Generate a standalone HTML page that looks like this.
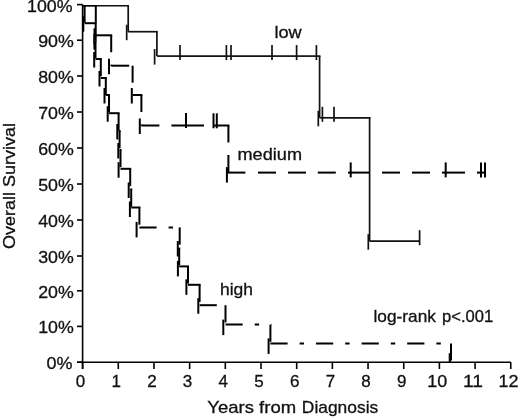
<!DOCTYPE html>
<html><head><meta charset="utf-8"><title>Overall Survival</title>
<style>
html,body{margin:0;padding:0;background:#fff;}
svg{display:block;font-family:"Liberation Sans",Arial,sans-serif;fill:#111;}
text{stroke:#111;stroke-width:0.3px;}
</style></head><body>
<svg width="520" height="419" viewBox="0 0 520 419">
<rect width="520" height="419" fill="#fff"/>
<line x1="82.60" y1="4.40" x2="82.60" y2="369.00" stroke="#000" stroke-width="1.6"/>
<line x1="77.00" y1="362.20" x2="510.90" y2="362.20" stroke="#000" stroke-width="1.6"/>
<line x1="77.00" y1="4.60" x2="82.60" y2="4.60" stroke="#000" stroke-width="1.6"/>
<text x="72.5" y="12.1" font-size="17" text-anchor="end" textLength="45.5" lengthAdjust="spacingAndGlyphs">100%</text>
<line x1="77.00" y1="40.20" x2="82.60" y2="40.20" stroke="#000" stroke-width="1.6"/>
<text x="73.8" y="47.1" font-size="17" text-anchor="end" textLength="35.6" lengthAdjust="spacingAndGlyphs">90%</text>
<line x1="77.00" y1="76.00" x2="82.60" y2="76.00" stroke="#000" stroke-width="1.6"/>
<text x="73.8" y="82.9" font-size="17" text-anchor="end" textLength="35.6" lengthAdjust="spacingAndGlyphs">80%</text>
<line x1="77.00" y1="112.00" x2="82.60" y2="112.00" stroke="#000" stroke-width="1.6"/>
<text x="73.8" y="118.9" font-size="17" text-anchor="end" textLength="35.6" lengthAdjust="spacingAndGlyphs">70%</text>
<line x1="77.00" y1="148.00" x2="82.60" y2="148.00" stroke="#000" stroke-width="1.6"/>
<text x="73.8" y="154.9" font-size="17" text-anchor="end" textLength="35.6" lengthAdjust="spacingAndGlyphs">60%</text>
<line x1="77.00" y1="184.00" x2="82.60" y2="184.00" stroke="#000" stroke-width="1.6"/>
<text x="73.8" y="190.9" font-size="17" text-anchor="end" textLength="35.6" lengthAdjust="spacingAndGlyphs">50%</text>
<line x1="77.00" y1="220.00" x2="82.60" y2="220.00" stroke="#000" stroke-width="1.6"/>
<text x="73.8" y="226.9" font-size="17" text-anchor="end" textLength="35.6" lengthAdjust="spacingAndGlyphs">40%</text>
<line x1="77.00" y1="256.00" x2="82.60" y2="256.00" stroke="#000" stroke-width="1.6"/>
<text x="73.8" y="262.9" font-size="17" text-anchor="end" textLength="35.6" lengthAdjust="spacingAndGlyphs">30%</text>
<line x1="77.00" y1="290.80" x2="82.60" y2="290.80" stroke="#000" stroke-width="1.6"/>
<text x="73.8" y="297.7" font-size="17" text-anchor="end" textLength="35.6" lengthAdjust="spacingAndGlyphs">20%</text>
<line x1="77.00" y1="326.40" x2="82.60" y2="326.40" stroke="#000" stroke-width="1.6"/>
<text x="73.8" y="333.3" font-size="17" text-anchor="end" textLength="35.6" lengthAdjust="spacingAndGlyphs">10%</text>
<line x1="77.00" y1="362.20" x2="82.60" y2="362.20" stroke="#000" stroke-width="1.6"/>
<text x="72.5" y="369.1" font-size="17" text-anchor="end" textLength="26" lengthAdjust="spacingAndGlyphs">0%</text>
<line x1="82.60" y1="362.20" x2="82.60" y2="369.00" stroke="#000" stroke-width="1.6"/>
<text x="80.6" y="387.1" font-size="17" text-anchor="middle">0</text>
<line x1="118.28" y1="362.20" x2="118.28" y2="369.00" stroke="#000" stroke-width="1.6"/>
<text x="116.3" y="387.1" font-size="17" text-anchor="middle">1</text>
<line x1="153.96" y1="362.20" x2="153.96" y2="369.00" stroke="#000" stroke-width="1.6"/>
<text x="152.0" y="387.1" font-size="17" text-anchor="middle">2</text>
<line x1="189.64" y1="362.20" x2="189.64" y2="369.00" stroke="#000" stroke-width="1.6"/>
<text x="187.6" y="387.1" font-size="17" text-anchor="middle">3</text>
<line x1="225.32" y1="362.20" x2="225.32" y2="369.00" stroke="#000" stroke-width="1.6"/>
<text x="223.3" y="387.1" font-size="17" text-anchor="middle">4</text>
<line x1="261.00" y1="362.20" x2="261.00" y2="369.00" stroke="#000" stroke-width="1.6"/>
<text x="259.0" y="387.1" font-size="17" text-anchor="middle">5</text>
<line x1="296.68" y1="362.20" x2="296.68" y2="369.00" stroke="#000" stroke-width="1.6"/>
<text x="294.7" y="387.1" font-size="17" text-anchor="middle">6</text>
<line x1="332.36" y1="362.20" x2="332.36" y2="369.00" stroke="#000" stroke-width="1.6"/>
<text x="330.4" y="387.1" font-size="17" text-anchor="middle">7</text>
<line x1="368.04" y1="362.20" x2="368.04" y2="369.00" stroke="#000" stroke-width="1.6"/>
<text x="366.0" y="387.1" font-size="17" text-anchor="middle">8</text>
<line x1="403.72" y1="362.20" x2="403.72" y2="369.00" stroke="#000" stroke-width="1.6"/>
<text x="401.7" y="387.1" font-size="17" text-anchor="middle">9</text>
<line x1="439.40" y1="362.20" x2="439.40" y2="369.00" stroke="#000" stroke-width="1.6"/>
<text x="437.2" y="387.1" font-size="17" text-anchor="middle" textLength="20" lengthAdjust="spacingAndGlyphs">10</text>
<line x1="475.08" y1="362.20" x2="475.08" y2="369.00" stroke="#000" stroke-width="1.6"/>
<text x="472.9" y="387.1" font-size="17" text-anchor="middle" textLength="20" lengthAdjust="spacingAndGlyphs">11</text>
<line x1="510.76" y1="362.20" x2="510.76" y2="369.00" stroke="#000" stroke-width="1.6"/>
<text x="508.6" y="387.1" font-size="17" text-anchor="middle" textLength="20" lengthAdjust="spacingAndGlyphs">12</text>
<text x="15.2" y="186" font-size="17" text-anchor="middle" textLength="126" lengthAdjust="spacingAndGlyphs" transform="rotate(-90 15.2 186)">Overall Survival</text>
<text x="207.3" y="413" font-size="17" text-anchor="start" textLength="88.8" lengthAdjust="spacingAndGlyphs">Years from</text>
<text x="301.8" y="413" font-size="17" text-anchor="start" textLength="76.5" lengthAdjust="spacingAndGlyphs">Diagnosis</text>
<text x="274.5" y="37.5" font-size="17" text-anchor="start" textLength="27.2" lengthAdjust="spacingAndGlyphs">low</text>
<text x="237.5" y="159.9" font-size="17" text-anchor="start" textLength="64.5" lengthAdjust="spacingAndGlyphs">medium</text>
<text x="220" y="295.4" font-size="17" text-anchor="start" textLength="33" lengthAdjust="spacingAndGlyphs">high</text>
<text x="373.5" y="322.2" font-size="17" text-anchor="start" textLength="62.4" lengthAdjust="spacingAndGlyphs">log-rank</text>
<text x="442.0" y="322.2" font-size="17" text-anchor="start" textLength="51.2" lengthAdjust="spacingAndGlyphs">p&lt;.001</text>
<line x1="82.60" y1="5.75" x2="129.05" y2="5.75" stroke="#111" stroke-width="1.3"/>
<line x1="128.20" y1="5.40" x2="128.20" y2="31.70" stroke="#111" stroke-width="1.7"/>
<line x1="126.70" y1="24.70" x2="126.70" y2="40.20" stroke="#111" stroke-width="1.7"/>
<line x1="128.20" y1="31.70" x2="157.75" y2="31.70" stroke="#111" stroke-width="1.7"/>
<line x1="156.90" y1="31.70" x2="156.90" y2="56.10" stroke="#111" stroke-width="1.7"/>
<line x1="154.60" y1="49.10" x2="154.60" y2="64.60" stroke="#111" stroke-width="1.7"/>
<line x1="156.90" y1="56.10" x2="180.00" y2="56.10" stroke="#111" stroke-width="1.7"/>
<line x1="180.00" y1="45.10" x2="180.00" y2="60.10" stroke="#111" stroke-width="1.7"/>
<line x1="180.00" y1="56.10" x2="226.40" y2="56.10" stroke="#111" stroke-width="1.7"/>
<line x1="226.40" y1="45.10" x2="226.40" y2="60.10" stroke="#111" stroke-width="1.7"/>
<line x1="226.40" y1="56.10" x2="231.00" y2="56.10" stroke="#111" stroke-width="1.7"/>
<line x1="231.00" y1="45.10" x2="231.00" y2="60.10" stroke="#111" stroke-width="1.7"/>
<line x1="231.00" y1="56.10" x2="272.00" y2="56.10" stroke="#111" stroke-width="1.7"/>
<line x1="272.00" y1="45.10" x2="272.00" y2="60.10" stroke="#111" stroke-width="1.7"/>
<line x1="272.00" y1="56.10" x2="296.60" y2="56.10" stroke="#111" stroke-width="1.7"/>
<line x1="296.60" y1="45.10" x2="296.60" y2="60.10" stroke="#111" stroke-width="1.7"/>
<line x1="296.60" y1="56.10" x2="316.40" y2="56.10" stroke="#111" stroke-width="1.7"/>
<line x1="316.40" y1="45.10" x2="316.40" y2="60.10" stroke="#111" stroke-width="1.7"/>
<line x1="316.40" y1="56.10" x2="320.45" y2="56.10" stroke="#111" stroke-width="1.7"/>
<line x1="319.60" y1="56.10" x2="319.60" y2="117.80" stroke="#111" stroke-width="1.7"/>
<line x1="318.30" y1="110.80" x2="318.30" y2="126.30" stroke="#111" stroke-width="1.7"/>
<line x1="319.60" y1="117.80" x2="322.40" y2="117.80" stroke="#111" stroke-width="1.7"/>
<line x1="322.40" y1="106.80" x2="322.40" y2="121.80" stroke="#111" stroke-width="1.7"/>
<line x1="322.40" y1="117.80" x2="334.00" y2="117.80" stroke="#111" stroke-width="1.7"/>
<line x1="334.00" y1="106.80" x2="334.00" y2="121.80" stroke="#111" stroke-width="1.7"/>
<line x1="334.00" y1="117.80" x2="370.45" y2="117.80" stroke="#111" stroke-width="1.7"/>
<line x1="369.60" y1="117.80" x2="369.60" y2="241.20" stroke="#111" stroke-width="1.7"/>
<line x1="368.30" y1="234.20" x2="368.30" y2="249.70" stroke="#111" stroke-width="1.7"/>
<line x1="369.60" y1="241.20" x2="419.60" y2="241.20" stroke="#111" stroke-width="1.7"/>
<line x1="419.60" y1="230.20" x2="419.60" y2="245.20" stroke="#111" stroke-width="1.7"/>
<line x1="82.60" y1="5.75" x2="96.80" y2="5.75" stroke="#000" stroke-width="1.3" stroke-dasharray="18 12"/>
<line x1="95.80" y1="5.40" x2="95.80" y2="35.30" stroke="#000" stroke-width="2" stroke-dasharray="17 12.4"/>
<line x1="94.50" y1="28.30" x2="94.50" y2="43.80" stroke="#000" stroke-width="2"/>
<line x1="95.80" y1="35.30" x2="112.20" y2="35.30" stroke="#000" stroke-width="2" stroke-dasharray="18 12"/>
<line x1="111.20" y1="35.30" x2="111.20" y2="65.70" stroke="#000" stroke-width="2" stroke-dasharray="17 12.4"/>
<line x1="109.00" y1="58.70" x2="109.00" y2="74.20" stroke="#000" stroke-width="2"/>
<line x1="111.20" y1="65.70" x2="133.60" y2="65.70" stroke="#000" stroke-width="2" stroke-dasharray="18 12"/>
<line x1="132.60" y1="65.70" x2="132.60" y2="95.00" stroke="#000" stroke-width="2" stroke-dasharray="17 12.4"/>
<line x1="131.80" y1="88.00" x2="131.80" y2="103.50" stroke="#000" stroke-width="2"/>
<line x1="132.60" y1="95.00" x2="142.40" y2="95.00" stroke="#000" stroke-width="2" stroke-dasharray="18 12"/>
<line x1="141.40" y1="95.00" x2="141.40" y2="125.50" stroke="#000" stroke-width="2" stroke-dasharray="17 12.4"/>
<line x1="139.80" y1="118.50" x2="139.80" y2="134.00" stroke="#000" stroke-width="2"/>
<line x1="141.40" y1="125.50" x2="186.00" y2="125.50" stroke="#000" stroke-width="2" stroke-dasharray="18 12"/>
<line x1="186.00" y1="113.00" x2="186.00" y2="128.00" stroke="#000" stroke-width="2"/>
<line x1="186.00" y1="125.50" x2="213.50" y2="125.50" stroke="#000" stroke-width="2" stroke-dasharray="18 12"/>
<line x1="213.50" y1="113.30" x2="213.50" y2="128.30" stroke="#000" stroke-width="2"/>
<line x1="213.50" y1="125.50" x2="216.80" y2="125.50" stroke="#000" stroke-width="2" stroke-dasharray="18 12"/>
<line x1="216.80" y1="113.30" x2="216.80" y2="128.30" stroke="#000" stroke-width="2"/>
<line x1="216.80" y1="125.50" x2="229.40" y2="125.50" stroke="#000" stroke-width="2" stroke-dasharray="18 12"/>
<line x1="228.40" y1="125.50" x2="228.40" y2="172.60" stroke="#000" stroke-width="2" stroke-dasharray="17 12.4"/>
<line x1="226.90" y1="167.10" x2="226.90" y2="182.60" stroke="#000" stroke-width="2"/>
<line x1="227.40" y1="172.60" x2="245.40" y2="172.60" stroke="#000" stroke-width="2"/>
<line x1="258.00" y1="172.60" x2="276.00" y2="172.60" stroke="#000" stroke-width="2"/>
<line x1="288.00" y1="172.60" x2="306.00" y2="172.60" stroke="#000" stroke-width="2"/>
<line x1="317.80" y1="172.60" x2="335.80" y2="172.60" stroke="#000" stroke-width="2"/>
<line x1="348.00" y1="172.60" x2="370.00" y2="172.60" stroke="#000" stroke-width="2"/>
<line x1="382.00" y1="172.60" x2="400.00" y2="172.60" stroke="#000" stroke-width="2"/>
<line x1="412.00" y1="172.60" x2="430.00" y2="172.60" stroke="#000" stroke-width="2"/>
<line x1="442.00" y1="172.60" x2="465.00" y2="172.60" stroke="#000" stroke-width="2"/>
<line x1="477.00" y1="172.60" x2="486.00" y2="172.60" stroke="#000" stroke-width="2"/>
<line x1="350.70" y1="162.40" x2="350.70" y2="177.40" stroke="#000" stroke-width="2"/>
<line x1="445.70" y1="162.40" x2="445.70" y2="177.40" stroke="#000" stroke-width="2"/>
<line x1="481.00" y1="162.40" x2="481.00" y2="177.40" stroke="#000" stroke-width="2"/>
<line x1="485.00" y1="162.40" x2="485.00" y2="177.40" stroke="#000" stroke-width="2"/>
<line x1="82.60" y1="5.75" x2="85.60" y2="5.75" stroke="#000" stroke-width="1.3" stroke-dasharray="17.2 12 4.4 12"/>
<line x1="84.60" y1="5.40" x2="84.60" y2="23.20" stroke="#000" stroke-width="2" stroke-dasharray="17.2 12 4.4 12"/>
<line x1="83.30" y1="16.20" x2="83.30" y2="31.70" stroke="#000" stroke-width="2"/>
<line x1="84.60" y1="23.20" x2="96.70" y2="23.20" stroke="#000" stroke-width="2" stroke-dasharray="17.2 12 4.4 12"/>
<line x1="95.70" y1="23.20" x2="95.70" y2="41.00" stroke="#000" stroke-width="2" stroke-dasharray="17.2 12 4.4 12"/>
<line x1="94.40" y1="34.00" x2="94.40" y2="49.50" stroke="#000" stroke-width="2"/>
<line x1="95.70" y1="41.00" x2="96.50" y2="41.00" stroke="#000" stroke-width="2" stroke-dasharray="17.2 12 4.4 12"/>
<line x1="95.50" y1="41.00" x2="95.50" y2="59.00" stroke="#000" stroke-width="2" stroke-dasharray="17.2 12 4.4 12"/>
<line x1="94.20" y1="52.00" x2="94.20" y2="67.50" stroke="#000" stroke-width="2"/>
<line x1="95.50" y1="59.00" x2="101.80" y2="59.00" stroke="#000" stroke-width="2" stroke-dasharray="17.2 12 4.4 12"/>
<line x1="100.80" y1="59.00" x2="100.80" y2="78.00" stroke="#000" stroke-width="2" stroke-dasharray="17.2 12 4.4 12"/>
<line x1="99.50" y1="71.00" x2="99.50" y2="86.50" stroke="#000" stroke-width="2"/>
<line x1="100.80" y1="78.00" x2="106.80" y2="78.00" stroke="#000" stroke-width="2" stroke-dasharray="17.2 12 4.4 12"/>
<line x1="105.80" y1="78.00" x2="105.80" y2="95.00" stroke="#000" stroke-width="2" stroke-dasharray="17.2 12 4.4 12"/>
<line x1="104.50" y1="88.00" x2="104.50" y2="103.50" stroke="#000" stroke-width="2"/>
<line x1="105.80" y1="95.00" x2="110.00" y2="95.00" stroke="#000" stroke-width="2" stroke-dasharray="17.2 12 4.4 12"/>
<line x1="109.00" y1="95.00" x2="109.00" y2="113.20" stroke="#000" stroke-width="2" stroke-dasharray="17.2 12 4.4 12"/>
<line x1="107.70" y1="106.20" x2="107.70" y2="121.70" stroke="#000" stroke-width="2"/>
<line x1="109.00" y1="113.20" x2="119.60" y2="113.20" stroke="#000" stroke-width="2" stroke-dasharray="17.2 12 4.4 12"/>
<line x1="118.60" y1="113.20" x2="118.60" y2="131.00" stroke="#000" stroke-width="2" stroke-dasharray="17.2 12 4.4 12"/>
<line x1="117.30" y1="124.00" x2="117.30" y2="139.50" stroke="#000" stroke-width="2"/>
<line x1="118.60" y1="131.00" x2="120.60" y2="131.00" stroke="#000" stroke-width="2" stroke-dasharray="17.2 12 4.4 12"/>
<line x1="119.60" y1="131.00" x2="119.60" y2="150.00" stroke="#000" stroke-width="2" stroke-dasharray="17.2 12 4.4 12"/>
<line x1="118.30" y1="143.00" x2="118.30" y2="158.50" stroke="#000" stroke-width="2"/>
<line x1="119.60" y1="150.00" x2="121.50" y2="150.00" stroke="#000" stroke-width="2" stroke-dasharray="17.2 12 4.4 12"/>
<line x1="120.50" y1="150.00" x2="120.50" y2="168.80" stroke="#000" stroke-width="2" stroke-dasharray="17.2 12 4.4 12"/>
<line x1="118.60" y1="162.20" x2="118.60" y2="177.70" stroke="#000" stroke-width="2"/>
<line x1="120.50" y1="168.80" x2="131.20" y2="168.80" stroke="#000" stroke-width="2" stroke-dasharray="17.2 12 4.4 12"/>
<line x1="130.20" y1="168.80" x2="130.20" y2="189.50" stroke="#000" stroke-width="2" stroke-dasharray="17.2 12 4.4 12"/>
<line x1="128.70" y1="182.50" x2="128.70" y2="198.00" stroke="#000" stroke-width="2"/>
<line x1="130.20" y1="189.50" x2="132.20" y2="189.50" stroke="#000" stroke-width="2" stroke-dasharray="17.2 12 4.4 12"/>
<line x1="131.20" y1="189.50" x2="131.20" y2="207.50" stroke="#000" stroke-width="2" stroke-dasharray="17.2 12 4.4 12"/>
<line x1="129.90" y1="201.50" x2="129.90" y2="217.00" stroke="#000" stroke-width="2"/>
<line x1="131.20" y1="207.50" x2="140.40" y2="207.50" stroke="#000" stroke-width="2" stroke-dasharray="17.2 12 4.4 12"/>
<line x1="139.40" y1="207.50" x2="139.40" y2="227.40" stroke="#000" stroke-width="2" stroke-dasharray="17.2 12 4.4 12"/>
<line x1="136.60" y1="221.90" x2="136.60" y2="237.40" stroke="#000" stroke-width="2"/>
<line x1="139.40" y1="227.40" x2="180.70" y2="227.40" stroke="#000" stroke-width="2" stroke-dasharray="17.2 12 4.4 12"/>
<line x1="179.70" y1="227.40" x2="179.70" y2="248.00" stroke="#000" stroke-width="2" stroke-dasharray="17.2 12 4.4 12"/>
<line x1="177.80" y1="241.00" x2="177.80" y2="256.50" stroke="#000" stroke-width="2"/>
<line x1="179.70" y1="248.00" x2="180.20" y2="248.00" stroke="#000" stroke-width="2" stroke-dasharray="17.2 12 4.4 12"/>
<line x1="179.20" y1="248.00" x2="179.20" y2="266.40" stroke="#000" stroke-width="2" stroke-dasharray="17.2 12 4.4 12"/>
<line x1="177.90" y1="260.90" x2="177.90" y2="276.40" stroke="#000" stroke-width="2"/>
<line x1="179.20" y1="266.40" x2="189.00" y2="266.40" stroke="#000" stroke-width="2" stroke-dasharray="17.2 12 4.4 12"/>
<line x1="188.00" y1="266.40" x2="188.00" y2="284.80" stroke="#000" stroke-width="2" stroke-dasharray="17.2 12 4.4 12"/>
<line x1="186.40" y1="279.30" x2="186.40" y2="294.80" stroke="#000" stroke-width="2"/>
<line x1="188.00" y1="284.80" x2="200.60" y2="284.80" stroke="#000" stroke-width="2" stroke-dasharray="17.2 12 4.4 12"/>
<line x1="199.60" y1="284.80" x2="199.60" y2="305.20" stroke="#000" stroke-width="2" stroke-dasharray="17.2 12 4.4 12"/>
<line x1="198.30" y1="298.20" x2="198.30" y2="313.70" stroke="#000" stroke-width="2"/>
<line x1="199.60" y1="305.20" x2="226.50" y2="305.20" stroke="#000" stroke-width="2" stroke-dasharray="17.2 12 4.4 12"/>
<line x1="225.50" y1="305.20" x2="225.50" y2="324.60" stroke="#000" stroke-width="2" stroke-dasharray="17.2 12 4.4 12"/>
<line x1="223.30" y1="319.60" x2="223.30" y2="335.10" stroke="#000" stroke-width="2"/>
<line x1="225.50" y1="324.60" x2="271.40" y2="324.60" stroke="#000" stroke-width="2" stroke-dasharray="17.2 12 4.4 12"/>
<line x1="270.40" y1="324.60" x2="270.40" y2="343.40" stroke="#000" stroke-width="2" stroke-dasharray="17.2 12 4.4 12"/>
<line x1="268.60" y1="338.40" x2="268.60" y2="353.90" stroke="#000" stroke-width="2"/>
<line x1="270.40" y1="343.40" x2="452.00" y2="343.40" stroke="#000" stroke-width="2" stroke-dasharray="17.2 12 4.4 12"/>
<line x1="451.00" y1="343.40" x2="451.00" y2="362.20" stroke="#000" stroke-width="2" stroke-dasharray="17.2 12 4.4 12"/>
<line x1="449.70" y1="353.20" x2="449.70" y2="362.70" stroke="#000" stroke-width="2"/>
</svg>
</body></html>
